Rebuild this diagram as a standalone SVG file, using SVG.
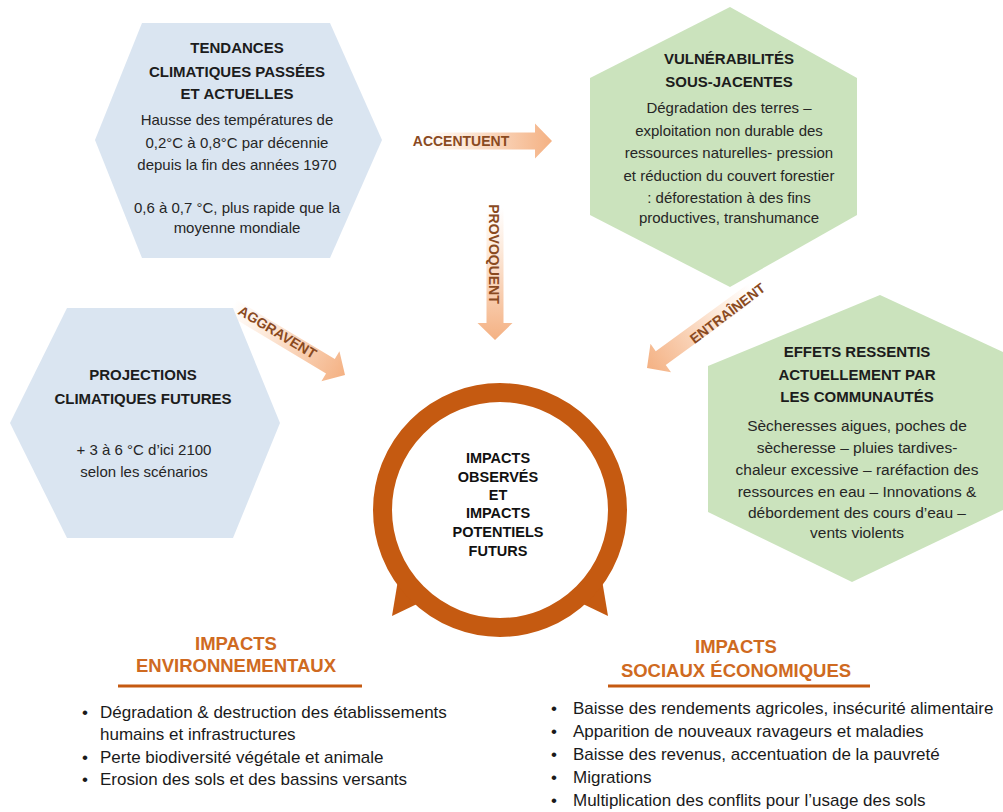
<svg xmlns="http://www.w3.org/2000/svg" width="1003" height="812" viewBox="0 0 1003 812">
<style>
text{font-family:"Liberation Sans",Arial,sans-serif}
.hb{fill:#DAE5F1}
.hg{fill:#CBE3BD}
.t{font-weight:bold;font-size:15px;fill:#1c1c1c;text-anchor:middle}
.b{font-size:15px;fill:#262626;text-anchor:middle}
.lbl{font-weight:bold;font-size:14px;fill:#8A4A1F;text-anchor:middle}
.arr{fill:url(#ag)}
.ring{fill:#fff;stroke:#C55A11;stroke-width:19}
.tab{fill:#C55A11}
.ct{font-weight:bold;font-size:14.5px;fill:#111;text-anchor:middle}
.sec{font-weight:bold;font-size:18.5px;fill:#CF6A21;text-anchor:middle}
.rule{stroke:#C55A11;stroke-width:3}
.bul{font-size:17px;fill:#1a1a1a}
</style>
<defs>
<linearGradient id="ag" gradientUnits="userSpaceOnUse" x1="-132" y1="0" x2="0" y2="0">
<stop offset="0" stop-color="#FFFFFF"/>
<stop offset="0.3" stop-color="#FDEBDD"/>
<stop offset="1" stop-color="#F4B183"/>
</linearGradient>
</defs>

<g id="connectors">
<path class="arr" transform="translate(552,141)" d="M-132,-8.5 L-17,-8.5 L-17,-17.5 L0,0 L-17,17.5 L-17,8.5 L-132,8.5 Z"/>
<text class="lbl" x="461" y="146">ACCENTUENT</text>
<path class="arr" transform="translate(495,340) rotate(90)" d="M-132,-8.5 L-17,-8.5 L-17,-17.5 L0,0 L-17,17.5 L-17,8.5 L-132,8.5 Z"/>
<text class="lbl" transform="translate(494,254) rotate(90)" x="0" y="5">PROVOQUENT</text>
<path class="arr" transform="translate(345,375) rotate(31)" d="M-132,-8.5 L-17,-8.5 L-17,-17.5 L0,0 L-17,17.5 L-17,8.5 L-132,8.5 Z"/>
<text class="lbl" transform="translate(345,375) rotate(31)" x="-80" y="3">AGGRAVENT</text>
<path class="arr" transform="translate(647,368) rotate(144)" d="M-132,-8.5 L-17,-8.5 L-17,-17.5 L0,0 L-17,17.5 L-17,8.5 L-132,8.5 Z"/>
<text class="lbl" transform="translate(728,314) rotate(-37)" x="0" y="4">ENTRAÎNENT</text>
</g>

<g id="tendances">
<polygon class="hb" points="142,23 330,23 382,140 330,258 142,258 95,140"/>
<text class="t" x="237" y="53">TENDANCES</text>
<text class="t" x="237" y="77">CLIMATIQUES PASSÉES</text>
<text class="t" x="237" y="99">ET ACTUELLES</text>
<text class="b" x="237" y="125">Hausse des températures de</text>
<text class="b" x="237" y="148">0,2°C à 0,8°C par décennie</text>
<text class="b" x="237" y="170">depuis la fin des années 1970</text>
<text class="b" x="237" y="213">0,6 à 0,7 °C, plus rapide que la</text>
<text class="b" x="237" y="233">moyenne mondiale</text>
</g>

<g id="vulnerabilites">
<polygon class="hg" points="730,7 857,78 857,215 730,287 590,215 590,78"/>
<text class="t" x="729" y="64">VULNÉRABILITÉS</text>
<text class="t" x="729" y="87">SOUS-JACENTES</text>
<text class="b" x="729" y="113">Dégradation des terres –</text>
<text class="b" x="729" y="136">exploitation non durable des</text>
<text class="b" x="729" y="158">ressources naturelles- pression</text>
<text class="b" x="729" y="181">et réduction du couvert forestier</text>
<text class="b" x="729" y="203">: déforestation à des fins</text>
<text class="b" x="729" y="223">productives, transhumance</text>
</g>

<g id="projections">
<polygon class="hb" points="67,308 233,308 280,423 233,538 67,538 10,423"/>
<text class="t" x="143" y="380">PROJECTIONS</text>
<text class="t" x="143" y="404">CLIMATIQUES FUTURES</text>
<text class="b" x="144" y="455">+ 3 à 6 °C d’ici 2100</text>
<text class="b" x="144" y="477">selon les scénarios</text>
</g>

<g id="effets">
<polygon class="hg" points="880,295 1003,352 1003,510 852,582 708,512 708,366"/>
<text class="t" x="857" y="357">EFFETS RESSENTIS</text>
<text class="t" x="857" y="380">ACTUELLEMENT PAR</text>
<text class="t" x="857" y="402">LES COMMUNAUTÉS</text>
<text class="b" x="857" y="431" style="font-size:15.5px">Sècheresses aigues, poches de</text>
<text class="b" x="857" y="453" style="font-size:15.5px">sècheresse – pluies tardives-</text>
<text class="b" x="857" y="475" style="font-size:15.5px">chaleur excessive – raréfaction des</text>
<text class="b" x="857" y="497" style="font-size:15.5px">ressources en eau – Innovations &amp;</text>
<text class="b" x="857" y="518" style="font-size:15.5px">débordement des cours d’eau –</text>
<text class="b" x="857" y="538" style="font-size:15.5px">vents violents</text>
</g>

<g id="impacts">
<polygon class="tab" points="400,568 392,616 442,592"/>
<polygon class="tab" points="600,568 608,616 558,592"/>
<circle class="ring" cx="500" cy="510" r="117.5"/>
<text class="ct" x="498" y="463">IMPACTS</text>
<text class="ct" x="498" y="482">OBSERVÉS</text>
<text class="ct" x="498" y="500">ET</text>
<text class="ct" x="498" y="518">IMPACTS</text>
<text class="ct" x="498" y="537">POTENTIELS</text>
<text class="ct" x="498" y="556">FUTURS</text>
</g>

<g id="env">
<text class="sec" x="236" y="650">IMPACTS</text>
<text class="sec" x="236" y="672">ENVIRONNEMENTAUX</text>
<line class="rule" x1="118" y1="686" x2="362" y2="686"/>
<text class="bul" x="82" y="718">•</text>
<text class="bul" x="100" y="718">Dégradation &amp; destruction des établissements</text>
<text class="bul" x="100" y="740">humains et infrastructures</text>
<text class="bul" x="82" y="763">•</text>
<text class="bul" x="100" y="763">Perte biodiversité végétale et animale</text>
<text class="bul" x="82" y="785">•</text>
<text class="bul" x="100" y="785">Erosion des sols et des bassins versants</text>
</g>

<g id="socio">
<text class="sec" x="736" y="653">IMPACTS</text>
<text class="sec" x="736" y="677">SOCIAUX ÉCONOMIQUES</text>
<line class="rule" x1="608" y1="686" x2="870" y2="686"/>
<text class="bul" x="551" y="714">•</text>
<text class="bul" x="573" y="714">Baisse des rendements agricoles, insécurité alimentaire</text>
<text class="bul" x="551" y="737">•</text>
<text class="bul" x="573" y="737">Apparition de nouveaux ravageurs et maladies</text>
<text class="bul" x="551" y="760">•</text>
<text class="bul" x="573" y="760">Baisse des revenus, accentuation de la pauvreté</text>
<text class="bul" x="551" y="783">•</text>
<text class="bul" x="573" y="783">Migrations</text>
<text class="bul" x="551" y="806">•</text>
<text class="bul" x="573" y="806">Multiplication des conflits pour l’usage des sols</text>
</g>
</svg>
